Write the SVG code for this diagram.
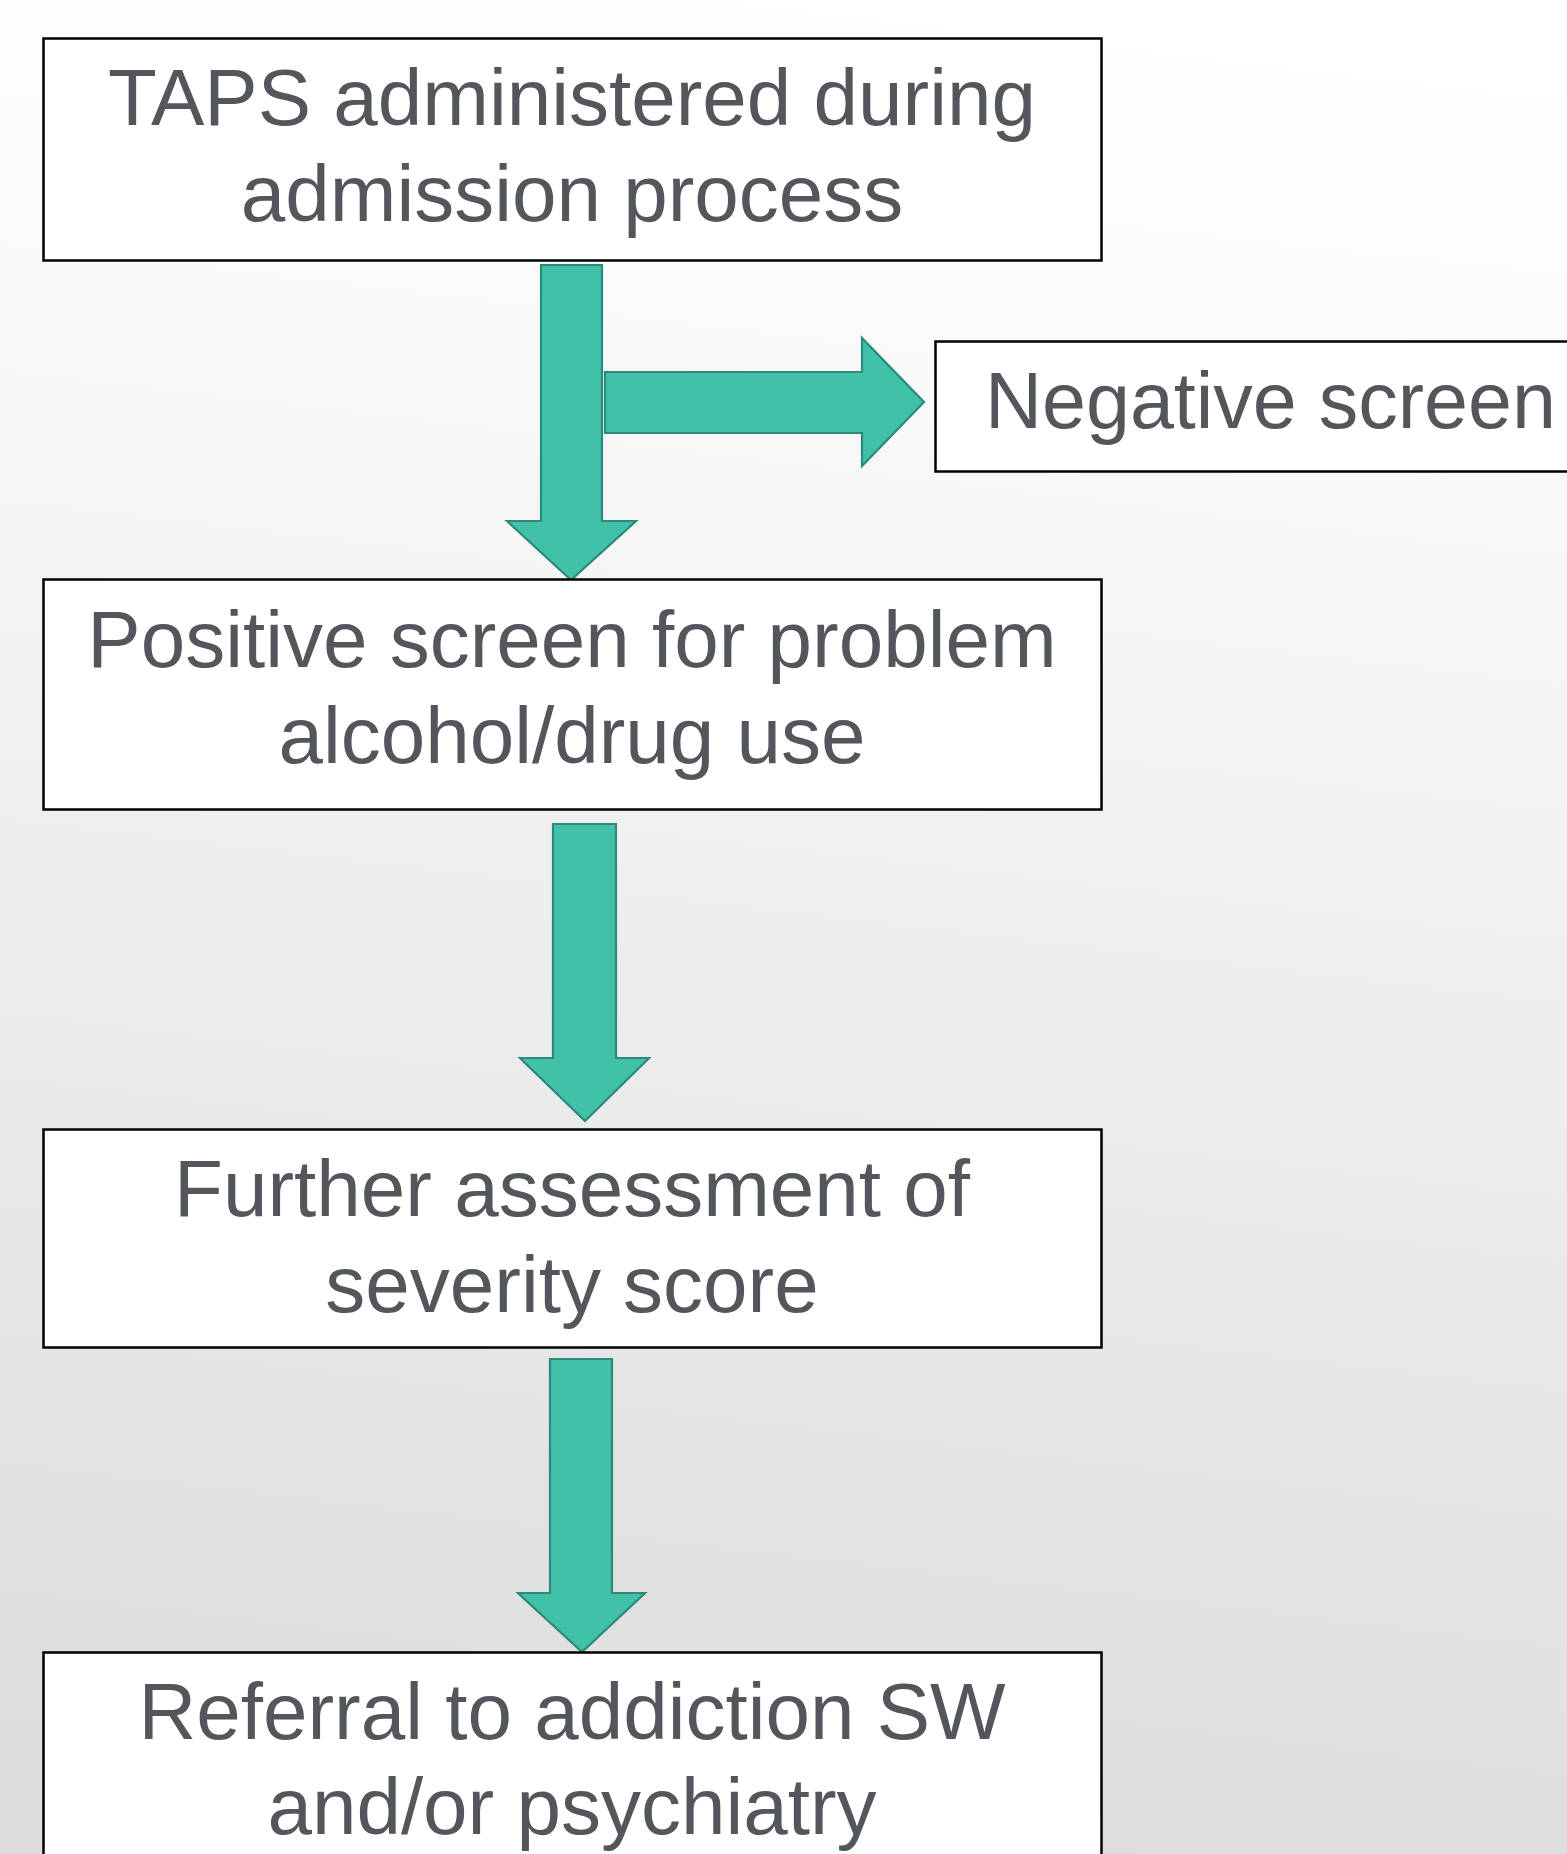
<svg xmlns="http://www.w3.org/2000/svg" width="1567" height="1854" viewBox="0 0 1567 1854">
<style>
.box{fill:#ffffff;stroke:#000000;stroke-width:2.5}
.lbl{font-family:"Liberation Sans",Arial,sans-serif;font-size:80px;fill:#53575c;text-anchor:middle}
.arr{fill:#42c1a9;stroke:#2b8a79;stroke-width:2.2;stroke-linejoin:miter}
</style>
<defs>
<linearGradient id="bg" x1="0.55" y1="0" x2="0.45" y2="1">
<stop offset="0" stop-color="#ffffff"/>
<stop offset="0.15" stop-color="#fbfbfb"/>
<stop offset="1" stop-color="#dcdcdc"/>
</linearGradient>
</defs>
<rect x="0" y="0" width="1567" height="1854" fill="url(#bg)"/>

<g id="connectors">
<polygon class="arr" points="541,265 602,265 602,521 636,521 571,580 507,521 541,521"/>
<polygon class="arr" points="605,372 862,372 862,338 924,402 862,466 862,433 605,433"/>
<polygon class="arr" points="553,824 616,824 616,1058 649,1058 585,1121 520,1058 553,1058"/>
<polygon class="arr" points="550,1359 612,1359 612,1593 645,1593 582,1652 518,1593 550,1593"/>
</g>

<g id="node-taps">
<rect class="box" x="43.5" y="38.5" width="1058" height="222"/>
<text class="lbl" x="572" y="125">TAPS administered during</text>
<text class="lbl" x="572" y="221">admission process</text>
</g>

<g id="node-negative">
<rect class="box" x="935.5" y="341.5" width="660" height="130"/>
<text x="985" y="428" font-family="'Liberation Sans',Arial,sans-serif" font-size="79" fill="#53575c">Negative screen</text>
</g>

<g id="node-positive">
<rect class="box" x="43.5" y="579.5" width="1058" height="230"/>
<text class="lbl" x="572" y="667">Positive screen for problem</text>
<text class="lbl" x="572" y="763">alcohol/drug use</text>
</g>

<g id="node-further">
<rect class="box" x="43.5" y="1129.5" width="1058" height="218"/>
<text class="lbl" x="572" y="1216">Further assessment of</text>
<text class="lbl" x="572" y="1312">severity score</text>
</g>

<g id="node-referral">
<rect class="box" x="43.5" y="1652.5" width="1058" height="260"/>
<text class="lbl" x="572" y="1739">Referral to addiction SW</text>
<text class="lbl" x="572" y="1834">and/or psychiatry</text>
</g>
</svg>
